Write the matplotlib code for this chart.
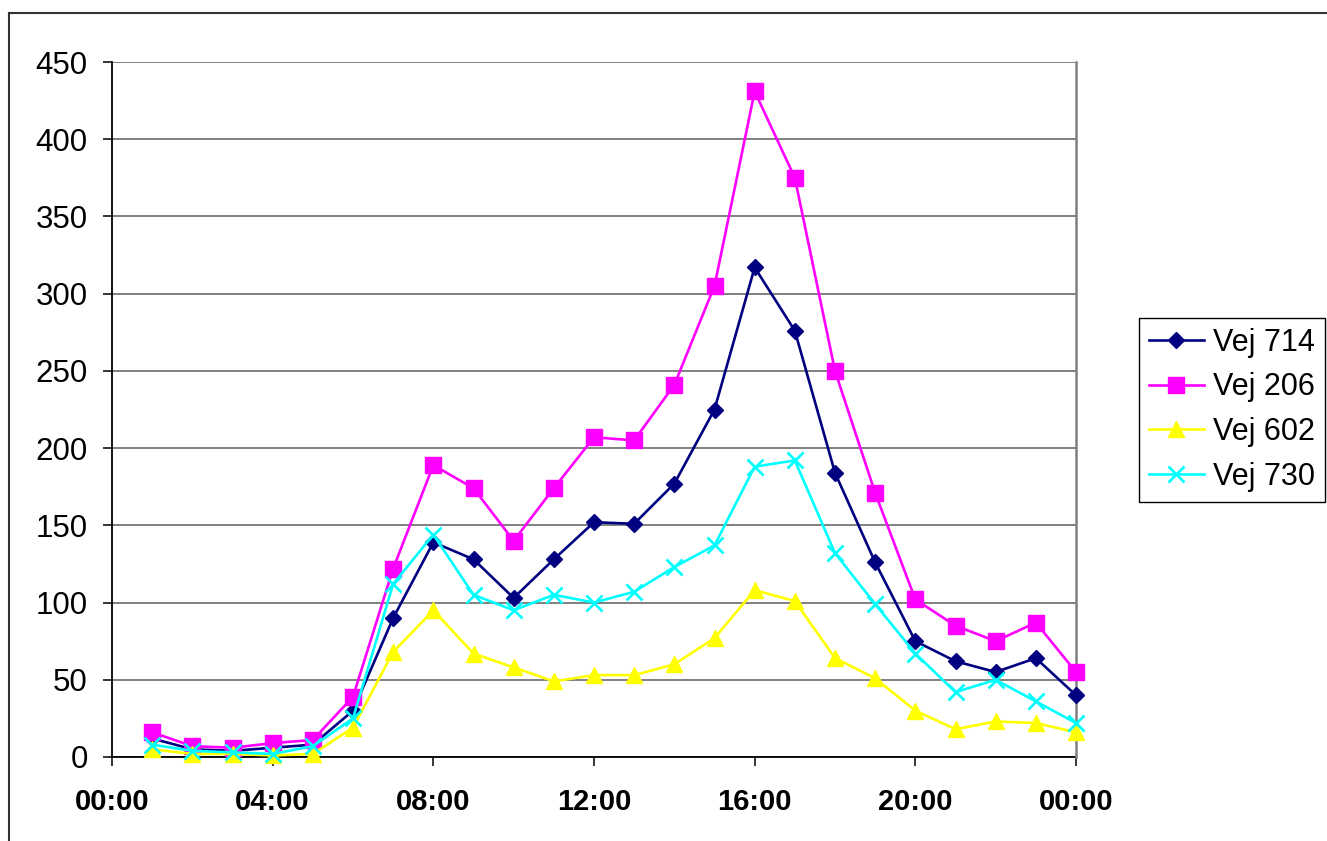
import matplotlib
matplotlib.use("Agg")
import matplotlib.pyplot as plt
from matplotlib.lines import Line2D

plt.rcParams['font.family'] = ['Liberation Sans', 'DejaVu Sans']

hours = list(range(1, 25))
vej714 = [12, 5, 4, 6, 8, 30, 90, 139, 128, 103, 128, 152, 151, 177, 225, 317, 276, 184, 126, 75, 62, 55, 64, 40]
vej206 = [16, 7, 6, 9, 11, 39, 122, 189, 174, 140, 174, 207, 205, 241, 305, 431, 375, 250, 171, 102, 85, 75, 87, 55]
vej602 = [5, 2, 2, 1, 2, 19, 68, 95, 67, 58, 49, 53, 53, 60, 77, 108, 101, 64, 51, 30, 18, 23, 22, 16]
vej730 = [8, 4, 3, 2, 7, 25, 112, 144, 105, 95, 105, 100, 107, 123, 137, 188, 192, 132, 99, 67, 42, 50, 36, 22]
series_names = ['Vej 714', 'Vej 206', 'Vej 602', 'Vej 730']
xtick_pos = [0, 4, 8, 12, 16, 20, 24]
xtick_labels = ['00:00', '04:00', '08:00', '12:00', '16:00', '20:00', '00:00']
yticks = list(range(0, 451, 50))

W, H = 1327, 841
fig = plt.figure(figsize=(W / 100, H / 100), dpi=100)
ax = fig.add_axes([112 / W, 1 - 757 / H, (1076 - 112) / W, (757 - 62) / H])

LW = 1.9
ax.plot(hours, vej714, color='#000080', lw=LW, marker='D', ms=8.4,
        mec='#000080', mfc='#000080', label=series_names[0], clip_on=False, zorder=3)
ax.plot(hours, vej206, color='#FF00FF', lw=LW, marker='s', ms=11.2, mec='#FF00FF',
        mfc='#FF00FF', label=series_names[1], clip_on=False, zorder=4)
ax.plot(hours, vej602, color='#FFFF00', lw=LW, marker='^', ms=11.2, mec='#FFFF00',
        mfc='#FFFF00', label=series_names[2], clip_on=False, zorder=5)
ax.plot(hours, vej730, color='#00FFFF', lw=LW, marker='x', ms=11.5, mew=1.9, mec='#00FFFF',
        label=series_names[3], clip_on=False, zorder=6)

ax.set_xlim(0, 24)
ax.set_ylim(0, 450)
ax.set_xticks(xtick_pos)
ax.set_xticklabels(xtick_labels, fontsize=21, fontweight='bold')
ax.set_yticks(yticks)
ax.set_yticklabels([str(v) for v in yticks], fontsize=22.5)
ax.yaxis.grid(True, color='#808080', lw=1.4)
ax.set_axisbelow(True)
ax.tick_params(axis='x', direction='out', length=6.5, width=1.1, pad=16, color='black')
ax.tick_params(axis='y', direction='out', length=6.5, width=1.1, pad=11, color='black')
for s in ['left', 'bottom']:
    ax.spines[s].set_color('black')
    ax.spines[s].set_linewidth(1.3)
    ax.spines[s].set_zorder(2)
ax.spines['top'].set_visible(False)
ax.spines['right'].set_color('#808080')
ax.spines['right'].set_linewidth(1.8)

leg = fig.legend(loc='upper left', bbox_to_anchor=(1139 / W, 1 - 318 / H),
                 bbox_transform=fig.transFigure, fontsize=22, frameon=True,
                 fancybox=False, edgecolor='black', framealpha=1, borderpad=0.32,
                 handlelength=1.8, handletextpad=0.3, labelspacing=0.48, borderaxespad=0)
leg.get_frame().set_linewidth(1.0)

# chart area border (top and left visible)
fig.add_artist(Line2D([9 / W, 1.0], [1 - 13 / H, 1 - 13 / H], transform=fig.transFigure,
                      color='#333333', lw=1.5))
fig.add_artist(Line2D([9 / W, 9 / W], [1 - 13 / H, 0.0], transform=fig.transFigure,
                      color='#333333', lw=1.5))

fig.savefig('out.png', dpi=100)
